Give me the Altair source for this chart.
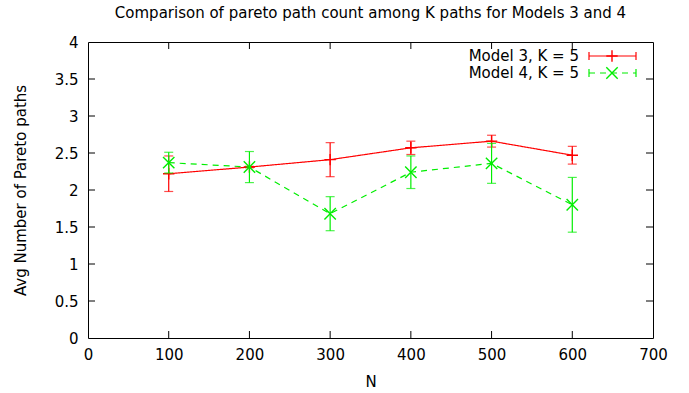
import altair as alt
import pandas as pd

# Measured averages and error half-widths
n_values = [100, 200, 300, 400, 500, 600]
model3_mean = [2.22, 2.31, 2.41, 2.57, 2.66, 2.47]
model3_err = [0.24, 0.01, 0.23, 0.09, 0.08, 0.12]
model4_mean = [2.37, 2.31, 1.68, 2.24, 2.36, 1.80]
model4_err = [0.14, 0.21, 0.23, 0.22, 0.27, 0.37]

x_ticks = [0, 100, 200, 300, 400, 500, 600, 700]
y_ticks = [0, 0.5, 1, 1.5, 2, 2.5, 3, 3.5, 4]

RED = "#ff0000"
GREEN = "#00ee00"
FONT = "DejaVu Sans"
FS = 15
W, H = 565, 296
TICK = 7

PLUS = "M-1,0L1,0M0,-1L0,1"
CROSS = "M-1,-1L1,1M-1,1L1,-1"


def frame(mean, err):
    return pd.DataFrame({
        "N": n_values,
        "mean": mean,
        "lo": [m - e for m, e in zip(mean, err)],
        "hi": [m + e for m, e in zip(mean, err)],
    })


m3 = frame(model3_mean, model3_err)
m4 = frame(model4_mean, model4_err)

xs = alt.Scale(domain=[0, 700], nice=False, zero=False)
ys = alt.Scale(domain=[0, 4], nice=False, zero=False)

x_axis = alt.Axis(values=x_ticks, format="d", title="N", grid=False, domain=False,
                  ticks=False, tickSize=0, labelPadding=9, titlePadding=12,
                  labelFlush=False, labelOverlap=False)
y_axis = alt.Axis(values=y_ticks, format="~g", title="Avg Number of Pareto paths",
                  grid=False, domain=False, ticks=False, tickSize=0, labelPadding=10,
                  titlePadding=26, labelFlush=False, labelOverlap=False)


def X(field):
    return alt.X(f"{field}:Q", scale=xs, axis=x_axis)


def Y(field):
    return alt.Y(f"{field}:Q", scale=ys, axis=y_axis)


def series(df, color, shape, dash):
    base = alt.Chart(df)
    line = base.mark_line(color=color, strokeWidth=1.2, strokeDash=dash).encode(
        x=X("N"), y=Y("mean"))
    bars = base.mark_rule(color=color, strokeWidth=1.2).encode(
        x=X("N"), y=Y("lo"), y2="hi:Q")
    cap_lo = base.mark_tick(color=color, orient="horizontal", size=9, thickness=1.2).encode(
        x=X("N"), y=Y("lo"))
    cap_hi = base.mark_tick(color=color, orient="horizontal", size=9, thickness=1.2).encode(
        x=X("N"), y=Y("hi"))
    pts = base.mark_point(shape=shape, filled=False, color=color, size=130,
                          strokeWidth=1.4, opacity=1).encode(x=X("N"), y=Y("mean"))
    return [line, bars, cap_lo, cap_hi, pts]


# Inward ticks on all four sides of the frame
xt = pd.DataFrame({"N": x_ticks[1:-1]})
yt = pd.DataFrame({"mean": y_ticks[1:-1]})
tick_style = dict(color="black", strokeWidth=1)
ticks = [
    alt.Chart(xt).mark_rule(**tick_style).encode(
        x=X("N"), y=alt.value(H), y2=alt.value(H - TICK)),
    alt.Chart(xt).mark_rule(**tick_style).encode(
        x=X("N"), y=alt.value(0), y2=alt.value(TICK)),
    alt.Chart(yt).mark_rule(**tick_style).encode(
        y=Y("mean"), x=alt.value(0), x2=alt.value(TICK)),
    alt.Chart(yt).mark_rule(**tick_style).encode(
        y=Y("mean"), x=alt.value(W), x2=alt.value(W - TICK)),
]


# Key in the upper right corner
def key(label, color, shape, dash, ypos):
    d = pd.DataFrame({"label": [label]})
    c = alt.Chart(d)
    x0, x1, xm = 501, 548, 524
    return [
        c.mark_text(align="right", baseline="middle", font=FONT, fontSize=FS,
                    color="black").encode(text="label:N", x=alt.value(491), y=alt.value(ypos)),
        c.mark_rule(color=color, strokeWidth=1.2, strokeDash=dash).encode(
            x=alt.value(x0), x2=alt.value(x1), y=alt.value(ypos)),
        c.mark_rule(color=color, strokeWidth=1.2).encode(
            x=alt.value(x0), y=alt.value(ypos - 4), y2=alt.value(ypos + 4)),
        c.mark_rule(color=color, strokeWidth=1.2).encode(
            x=alt.value(x1), y=alt.value(ypos - 4), y2=alt.value(ypos + 4)),
        c.mark_point(shape=shape, filled=False, color=color, size=130, strokeWidth=1.4,
                     opacity=1).encode(x=alt.value(xm), y=alt.value(ypos)),
    ]


layers = (series(m3, RED, PLUS, [1, 0]) + series(m4, GREEN, CROSS, [6, 5])
          + ticks
          + key("Model 3, K = 5", RED, PLUS, [1, 0], 14)
          + key("Model 4, K = 5", GREEN, CROSS, [6, 5], 31))

chart = alt.layer(*layers).properties(
    width=W, height=H,
    background="white",
    padding={"left": 88, "top": 42, "right": 36, "bottom": 55},
    autosize=alt.AutoSizeParams(type="none"),
    title=alt.TitleParams(
        "Comparison of pareto path count among K paths for Models 3 and 4",
        font=FONT, fontSize=FS, fontWeight="normal", color="black", offset=14, anchor="middle"),
).configure_view(stroke="black", strokeWidth=1).configure_axis(
    labelFont=FONT, labelFontSize=FS, labelColor="black",
    titleFont=FONT, titleFontSize=FS, titleFontWeight="normal", titleColor="black",
)

chart.save("out.html", embed_options={"renderer": "svg", "actions": False})
